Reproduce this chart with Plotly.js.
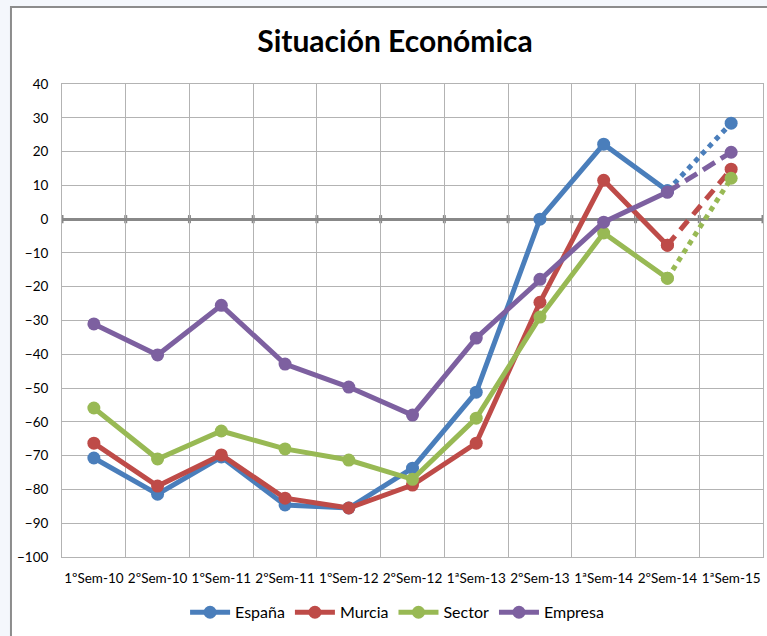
<!DOCTYPE html>
<html><head><meta charset="utf-8">
<script src="https://cdn.plot.ly/plotly-3.0.1.min.js"></script>
<style>html,body{margin:0;padding:0;background:#fff}#chart{width:767px;height:636px}</style>
</head><body><div id="chart"></div>
<script>
const categories = ["1ºSem-10","2ºSem-10","1ºSem-11","2ºSem-11","1ºSem-12","2ºSem-12","1ªSem-13","2ºSem-13","1ªSem-14","2ºSem-14","1ªSem-15"];
const espana  = [-70.7,-81.4,-70.4,-84.6,-85.5,-73.7,-51.2,0,22.2,8.4,28.4];
const murcia  = [-66.3,-79,-69.8,-82.6,-85.5,-78.7,-66.3,-24.6,11.5,-7.7,14.8];
const sector  = [-55.9,-71,-62.7,-68,-71.3,-77,-58.9,-29,-4.1,-17.5,12.1];
const empresa = [-31,-40.2,-25.5,-42.9,-49.7,-58,-35.2,-17.8,-0.9,8,19.8];
const boundaryTicks = [-0.5,0.5,1.5,2.5,3.5,4.5,5.5,6.5,7.5,8.5,9.5,10.5];

const series = [
  {name:"España", y:espana, color:"#4A7EBB", dash:"dot"},
  {name:"Murcia", y:murcia, color:"#BE4B48", dash:"12px,8px"},
  {name:"Sector", y:sector, color:"#98B954", dash:"dot"},
  {name:"Empresa", y:empresa, color:"#7D60A0", dash:"14px,7px"}
];
const n = categories.length;
const traces = [];
series.forEach(s => {
  traces.push({
    x: categories.slice(0, n-1), y: s.y.slice(0, n-1), name: s.name, type:"scatter", mode:"lines+markers",
    line:{color:s.color, width:5}, marker:{color:s.color, size:13}, legendgroup:s.name
  });
});
series.forEach(s => {
  traces.push({
    x: categories.slice(n-2), y: s.y.slice(n-2), name: s.name, type:"scatter", mode:"lines+markers",
    line:{color:s.color, width:5, dash:s.dash}, marker:{color:s.color, size:13}, legendgroup:s.name, showlegend:false
  });
});

// chart frame (white chart area on a pale page) + small ticks crossing the zero line
const shapes = [{
  type:"rect", xref:"paper", yref:"paper", x0:-0.0728, x1:1.2, y0:-0.5, y1:1.1628,
  fillcolor:"#fff", line:{color:"#8c8c8c", width:2}, layer:"below"
}].concat(boundaryTicks.map(b => ({
  type:"line", xref:"x", yref:"y", x0:b, x1:b, y0:-1.2, y1:1.2,
  line:{color:"#888", width:3}, layer:"below"
})));

const font = "Lato, 'Open Sans', sans-serif";
const layout = {
  width:767, height:636,
  margin:{l:62, r:4, t:84, b:79},
  paper_bgcolor:"#f4f7fc", plot_bgcolor:"#fff",
  font:{family:font, size:13, color:"#000"},
  title:{text:"<b>Situación Económica</b>", font:{family:font, size:30, color:"#000"}, x:0.515, xanchor:"center", y:0.935, yanchor:"middle"},
  xaxis:{type:"category", tickson:"boundaries", showgrid:true, gridcolor:"#b3b3b3", gridwidth:1, automargin:false,
    showline:true, linecolor:"#b3b3b3", mirror:true, ticks:"", tickangle:0, tickfont:{size:13.5}, ticklabelstandoff:9, range:[-0.5,10.5]},
  yaxis:{range:[-100,40], dtick:10, showgrid:true, gridcolor:"#b3b3b3", gridwidth:1, automargin:false,
    showline:true, linecolor:"#b3b3b3", mirror:true, ticks:"", zeroline:true, zerolinecolor:"#888", zerolinewidth:3,
    tickfont:{size:13.5}, ticklabelstandoff:10},
  shapes: shapes,
  showlegend:true,
  legend:{orientation:"h", x:0.478, xanchor:"center", y:-0.117, yanchor:"middle", font:{size:16}, itemwidth:40, tracegroupgap:0, bgcolor:"rgba(0,0,0,0)"},
  hovermode:false
};
Plotly.newPlot("chart", traces, layout, {displayModeBar:false, staticPlot:true});
</script></body></html>
